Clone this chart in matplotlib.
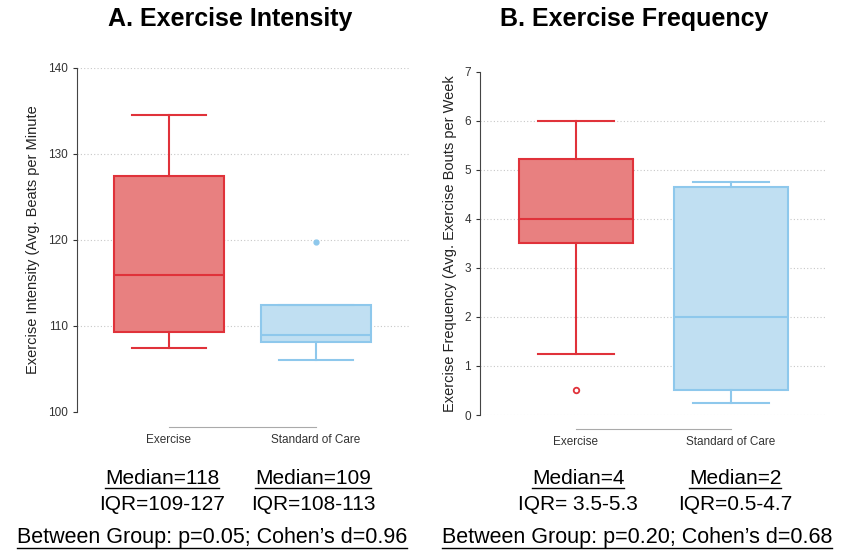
import matplotlib
matplotlib.use("Agg")
import matplotlib.pyplot as plt
from matplotlib.lines import Line2D
from matplotlib import font_manager

# group labels
groups = ["Exercise", "Standard of Care"]

# A: exercise intensity (beats per minute) box summaries
int_med = [115.9, 109.0]
int_q1 = [109.3, 108.1]
int_q3 = [127.4, 112.4]
int_lo = [107.4, 106.1]
int_hi = [134.5, 112.4]
int_out = [[], [119.8]]

# B: exercise frequency (bouts per week) box summaries
freq_med = [4.0, 2.0]
freq_q1 = [3.5, 0.5]
freq_q3 = [5.23, 4.65]
freq_lo = [1.25, 0.25]
freq_hi = [6.0, 4.75]
freq_out = [[0.5], []]

int_notes = [("Median=118", "IQR=109-127"), ("Median=109", "IQR=108-113")]
freq_notes = [("Median=4", "IQR= 3.5-5.3"), ("Median=2", "IQR=0.5-4.7")]
int_test = "Between Group: p=0.05; Cohen\u2019s d=0.96"
freq_test = "Between Group: p=0.20; Cohen\u2019s d=0.68"

names = {f.name for f in font_manager.fontManager.ttflist}
narrow = "Liberation Sans Narrow" if "Liberation Sans Narrow" in names else "Liberation Sans"
plt.rcParams["font.family"] = ["Liberation Sans", "DejaVu Sans"]

RED_FILL, RED_EDGE = "#e88080", "#e0323a"
BLUE_FILL, BLUE_EDGE = "#c0dff2", "#8ec8ec"
fills = [RED_FILL, BLUE_FILL]
edges = [RED_EDGE, BLUE_EDGE]


def box_panel(ax, med, q1, q3, lo, hi, out, ylim, ticks, grid, xlim, width, outward):
    stats = []
    for i in range(len(groups)):
        stats.append(dict(med=med[i], q1=q1[i], q3=q3[i], whislo=lo[i],
                          whishi=hi[i], fliers=out[i], label=groups[i]))
    bp = ax.bxp(stats, positions=[0, 1], widths=width, patch_artist=True,
                showcaps=True, capwidths=width * 0.67)
    for i in range(len(groups)):
        bp["boxes"][i].set(facecolor=fills[i], edgecolor=edges[i], linewidth=1.5)
        bp["medians"][i].set(color=edges[i], linewidth=1.5)
        for k in (2 * i, 2 * i + 1):
            bp["whiskers"][k].set(color=edges[i], linewidth=1.5)
            bp["caps"][k].set(color=edges[i], linewidth=1.5)
    # outlier styles: hollow red ring, filled blue dot
    bp["fliers"][0].set(marker="o", markerfacecolor="white", markeredgecolor=RED_EDGE,
                        markersize=4, markeredgewidth=1.3)
    bp["fliers"][1].set(marker="o", markerfacecolor=BLUE_EDGE, markeredgecolor=BLUE_EDGE,
                        markersize=3.5)
    for g in grid:
        ax.axhline(g, color="#c8c8c8", linestyle=(0, (1, 2)), linewidth=0.8, zorder=0)
    ax.set_ylim(*ylim)
    ax.set_xlim(*xlim)
    ax.set_yticks(ticks)
    ax.tick_params(axis="y", labelsize=8.5, colors="#333333", length=3, width=0.8)
    ax.tick_params(axis="x", labelsize=8.5, colors="#333333", length=0, pad=5)
    ax.set_xticks([0, 1], groups)
    for s in ("top", "right"):
        ax.spines[s].set_visible(False)
    ax.spines["left"].set_color("#444444")
    ax.spines["left"].set_linewidth(0.8)
    ax.spines["left"].set_bounds(ylim[0], ylim[1])
    ax.spines["bottom"].set_color("#aaaaaa")
    ax.spines["bottom"].set_linewidth(0.8)
    ax.spines["bottom"].set_bounds(0, 1)
    ax.spines["bottom"].set_position(("outward", outward))


fig = plt.figure(figsize=(8.51, 5.54), dpi=100)

axA = fig.add_axes([77 / 851, 1 - 412 / 554, 333 / 851, 344 / 554])
box_panel(axA, int_med, int_q1, int_q3, int_lo, int_hi, int_out, (100, 140),
          [100, 110, 120, 130, 140], [110, 120, 130, 140], (-0.626, 1.64), 0.75, 11)
axA.set_ylabel("Exercise Intensity (Avg. Beats per Minute", fontsize=10.5, color="#222222", labelpad=6)

axB = fig.add_axes([480 / 851, 1 - 415 / 554, 345 / 851, 343.3 / 554])
box_panel(axB, freq_med, freq_q1, freq_q3, freq_lo, freq_hi, freq_out, (0, 7),
          range(8), range(7), (-0.619, 1.606), 0.74, 10)
axB.set_ylabel("Exercise Frequency (Avg. Exercise Bouts per Week", fontsize=10.5, color="#222222", labelpad=5)

fig.text(230 / 851, 1 - 19 / 554, "A. Exercise Intensity", ha="center", va="center",
         fontsize=18, fontweight="bold")
fig.text(634 / 851, 1 - 19 / 554, "B. Exercise Frequency", ha="center", va="center",
         fontsize=18, fontweight="bold")

# summary text under each group; some lines are underlined
underlined = []
for (note, cx) in zip(int_notes + freq_notes, [162, 313, 578, 735]):
    t = fig.text(cx / 851, 1 - 479 / 554, note[0], ha="center", va="center",
                 fontsize=15, family=narrow)
    underlined.append(t)
    fig.text(cx / 851, 1 - 504 / 554, note[1], ha="center", va="center",
             fontsize=15, family=narrow)
for txt, cx in [(int_test, 212), (freq_test, 637)]:
    t = fig.text(cx / 851, 1 - 538 / 554, txt, ha="center", va="center",
                 fontsize=15.5, family=narrow)
    underlined.append(t)

fig.canvas.draw()
r = fig.canvas.get_renderer()
for t in underlined:
    bb = t.get_window_extent(r).transformed(fig.transFigure.inverted())
    y = bb.y0 + 0.1 / 554
    fig.add_artist(Line2D([bb.x0, bb.x1], [y, y], color="black", linewidth=1.0,
                          transform=fig.transFigure))

fig.savefig("out.png", dpi=100, facecolor="white")
